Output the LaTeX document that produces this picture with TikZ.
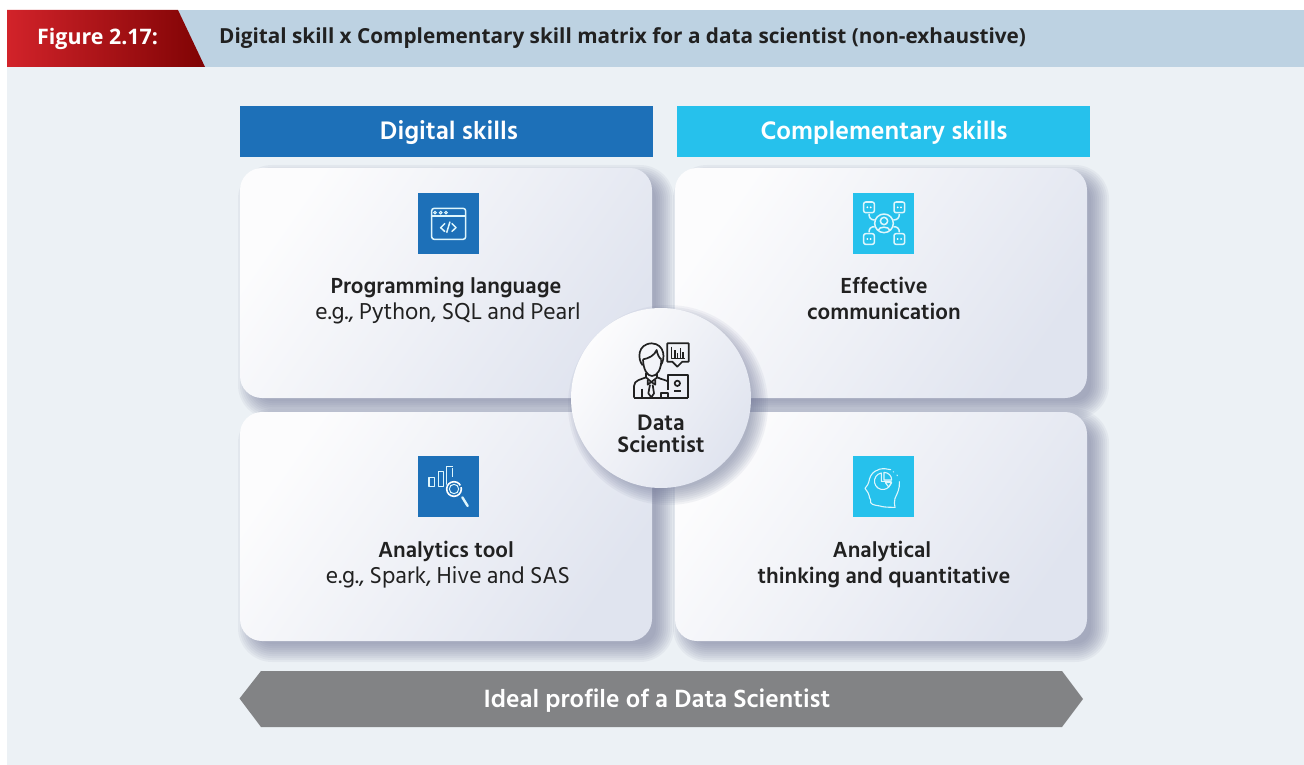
\documentclass[tikz,border=0pt]{standalone}
\usepackage{fontspec}
\setmainfont{Hind Siliguri}
\newfontfamily\headfont{Open Sans}
\usetikzlibrary{calc,arrows.meta}
\definecolor{panelbg}{HTML}{ECF1F5}
\definecolor{headbg}{HTML}{BDD2E2}
\definecolor{redL}{HTML}{D2232A}
\definecolor{redR}{HTML}{7F0304}
\definecolor{dblue}{HTML}{1D70B8}
\definecolor{lblue}{HTML}{26C1EC}
\definecolor{gbar}{HTML}{828385}
\definecolor{ink}{HTML}{212121}
\definecolor{cardA}{HTML}{FCFCFD}
\definecolor{cardB}{HTML}{E0E4EF}
\definecolor{shad}{HTML}{6E7596}
\tikzset{
  x=1pt,y=-1pt,
  zu/.style={x=0.33333pt,y=-0.33333pt},
  bold label/.style={font=\fontsize{22.4}{26}\selectfont\bfseries,text=ink,anchor=base,inner sep=0pt},
  plain label/.style={font=\fontsize{23.6}{26}\selectfont,text=ink,anchor=base,inner sep=0pt},
  head label/.style={font=\fontsize{26}{30}\selectfont\bfseries,text=white,anchor=base,inner sep=0pt},
  icoW/.style={draw=white!85!lblue,line width=1.5pt,fill=none,line join=round},
  icoK/.style={draw=ink,line width=1.7pt,fill=none,line join=round}
}
\newcommand{\softshadow}[5]{% x0 y0 x1 y1 radius
  \foreach \s in {12,10,...,-6}{
    \fill[shad,opacity=0.075,rounded corners={#5+\s*1pt}]
      ({#1+10-\s},{#2+9-\s}) rectangle ({#3+10+\s},{#4+9+\s});
  }
}
\newcommand{\card}[5]{% name x0 y0 x1 y1
  \shade[rounded corners=22pt,shading=axis,left color=cardA,right color=cardB,shading angle=55] (#2,#3) rectangle (#4,#5);
  \coordinate (#1) at ({(#2+#4)/2},{(#3+#5)/2});
}
\begin{document}
\begin{tikzpicture}
\useasboundingbox (0,0) rectangle (1304,765);
\fill[white] (0,0) rectangle (1304,765);
\fill[panelbg] (7,67) rectangle (1304,765);
\fill[headbg] (170,10) rectangle (1304,67);
\shade[left color=redL,right color=redR] (7,10) -- (178,10) -- (205,67) -- (7,67) -- cycle;
\node[anchor=base west,inner sep=0pt,text=white,font=\headfont\fontsize{21.4}{22}\selectfont\bfseries] (figlabel) at (37,45) {Figure 2.17:};
\node[anchor=base west,inner sep=0pt,text=ink,font=\headfont\fontsize{20.75}{22}\selectfont\bfseries] (figtitle) at (219,44) {Digital skill x Complementary skill matrix for a data scientist (non-exhaustive)};
% column heads
\fill[dblue] (240,106) rectangle (653,157);
\node[head label] (hd1) at (449,140) {Digital skills};
\fill[lblue] (677,106) rectangle (1090,157);
\node[head label] (hd2) at (884,140) {Complementary skills};
% card shadows then cards
\softshadow{240}{168}{652}{398}{22pt}
\softshadow{675}{168}{1087}{398}{22pt}
\softshadow{240}{412}{652}{641}{22pt}
\softshadow{675}{412}{1087}{641}{22pt}
\card{c1}{240}{168}{652}{398}
\card{c2}{675}{168}{1087}{398}
\card{c3}{240}{412}{652}{641}
\card{c4}{675}{412}{1087}{641}
% icon squares
\fill[dblue] (418,193) rectangle (479,254);
\fill[lblue] (853,193) rectangle (914,254);
\fill[dblue] (418,456) rectangle (479,517);
\fill[lblue] (853,456) rectangle (914,517);
% code window icon
\begin{scope}[shift={(400,180)},zu]
 \draw[icoW,rounded corners=2.5pt] (95,85) rectangle (197,178);
 \draw[icoW] (95,108) -- (197,108);
 \foreach \x in {105,122,138} \draw[white!85!lblue,line width=1pt] (\x,98) circle (4);
 \draw[icoW] (135,130) -- (122,143) -- (135,155);
 \draw[icoW] (155,130) -- (168,143) -- (155,155);
 \draw[icoW] (150,125) -- (140,158);
\end{scope}
% network icon
\begin{scope}[shift={(840,180)},zu]
 \foreach \cx/\cy/\a/\b in {87/82/-1/-1,178/82/1/-1,87/177/-1/1,178/177/1/1}{
  \draw[icoW,rounded corners=2pt] ({\cx-16},{\cy-16}) rectangle ({\cx+16},{\cy+16});
  \fill[white] ({\cx-5},{\cy}) circle (3);
  \fill[white] ({\cx+5},{\cy}) circle (3);
  \draw[icoW] ({\cx},{\cy-\b*20}) .. controls ({\cx},{\cy-\b*32}) and ({\cx-\a*6},{130+\b*10}) .. ({132+\a*28},{130+\b*10});
 }
 \draw[icoW] (132,130) circle (28);
 \draw[icoW] (132,123) circle (11);
 \draw[icoW] (114,152) .. controls (116,138) and (148,138) .. (150,152);
\end{scope}
% analytics icon
\begin{scope}[shift={(405,445)},zu]
 \draw[icoW] (72,98) rectangle (88,125);
 \draw[icoW] (100,80) rectangle (115,125);
 \draw[icoW] (132,125) -- (125,125) -- (125,65) -- (143,65);
 \draw[icoW,dash pattern=on 9pt off 3pt] (143,70) -- (143,105);
 \fill[dblue] (147,132) circle (26);
 \draw[white,line width=1.6pt,dash pattern=on 42pt off 2pt] (147,132) circle (22);
 \draw[white!85!lblue,line width=1pt] (147,132) circle (14);
 \draw[icoW,line width=2.4pt,line cap=round] (172,157) -- (188,183);
\end{scope}
% head icon
\begin{scope}[shift={(840,445)},zu,line cap=round]
 \draw[icoW,line width=1.1pt] (165,187) .. controls (135,187) and (125,185) .. (120,183) .. controls (100,180) and (88,178) .. (92,165) .. controls (85,155) and (90,150) .. (84,143) -- (75,130) .. controls (90,115) and (85,105) .. (92,93) .. controls (105,70) and (130,68) .. (152,74);
 \draw[icoW,line width=1.1pt] (160,80) -- (161,81) (171,90) -- (172,92);
 \draw[icoW,line width=1.1pt] (178,110) .. controls (180,130) and (172,145) .. (165,160) .. controls (162,170) and (163,178) .. (165,187);
 \draw[icoW,line width=1.1pt] (124,84) arc[start angle=260,end angle=0,radius=25] -- (124,109) -- cycle;
 \draw[icoW,line width=1.1pt] (132,82) -- (132,105) -- (155,105) .. controls (155,92) and (146,83) .. (132,82);
 \draw[icoW,line width=1.1pt] (136,113) -- (155,113) -- (146,126) -- cycle;
\end{scope}
% card texts
\node[bold label] (t1) at (446,293) {Programming language};
\node[plain label] (t1b) at (448,319) {e.g., Python, SQL and Pearl};
\node[bold label] (t2) at (884,293) {Effective};
\node[bold label] (t2b) at (884,319) {communication};
\node[bold label] (t3) at (446,557) {Analytics tool};
\node[plain label] (t3b) at (448,583) {e.g., Spark, Hive and SAS};
\node[bold label] (t4) at (882,557) {Analytical};
\node[bold label] (t4b) at (884,583) {thinking and quantitative};
% centre circle
\foreach \s in {10,8,...,-6}{
  \fill[shad,opacity=0.08] (668,405) circle ({90+\s});
}
\shade[shading=axis,left color=cardA,right color=cardB,shading angle=55] (661,398) circle (90);
\coordinate (dc) at (661,398);
% person icon
\begin{scope}[shift={(560,300)},zu]
 \draw[icoK] (248,196) .. controls (232,178) and (232,132) .. (275,130) .. controls (316,132) and (316,178) .. (302,196);
 \draw[icoK] (249,178) .. controls (250,210) and (262,228) .. (276,228) .. controls (292,228) and (304,208) .. (304,178);
 \draw[icoK] (249,178) .. controls (265,176) and (284,166) .. (290,150) .. controls (292,164) and (298,174) .. (304,178);
 \draw[icoK] (258,220) -- (258,232) (292,220) -- (292,232);
 \draw[icoK] (222,293) -- (222,258) .. controls (222,240) and (245,238) .. (258,232);
 \draw[icoK] (292,232) .. controls (303,238) and (318,240) .. (325,245);
 \draw[icoK] (222,293) -- (385,293);
 \draw[icoK] (258,232) -- (274,246) -- (292,232);
 \draw[icoK] (263,240) -- (263,254) -- (274,246) -- (286,254) -- (286,240);
 \draw[icoK] (270,254) -- (265,280) -- (274,292) -- (282,280) -- (278,254);
 \draw[icoK] (245,266) -- (245,293);
 \draw[icoK] (325,270) -- (325,225) -- (385,225) -- (385,293);
 \draw[icoK] (303,293) -- (303,280) -- (325,280) -- (325,293);
 \draw[icoK] (352,250) circle (8);
 \draw[icoK] (342,272) -- (362,272);
 \draw[icoK] (322,130) -- (386,130) -- (386,185) -- (367,185) -- (352,200) -- (337,185) -- (322,185) -- cycle;
 \draw[icoK,line width=1.2pt] (335,140) -- (335,175) -- (375,175);
 \draw[icoK,line width=1.2pt] (345,175) -- (345,150) (353,175) -- (353,160) (361,175) -- (361,145) (369,175) -- (369,156);
\end{scope}
\node[font=\fontsize{23}{22}\selectfont\bfseries,text=ink,anchor=base,inner sep=0pt] (ds1) at (661,430) {Data};
\node[font=\fontsize{23}{22}\selectfont\bfseries,text=ink,anchor=base,inner sep=0pt] (ds2) at (661,452) {Scientist};
% bottom bar
\fill[gbar] (239.5,698.5) -- (261,671) -- (1062,671) -- (1083,699) -- (1062,727) -- (261,727) -- cycle;
\node[head label,font=\fontsize{25.6}{30}\selectfont\bfseries] (bar) at (657,707) {Ideal profile of a Data Scientist};
\end{tikzpicture}
\end{document}
